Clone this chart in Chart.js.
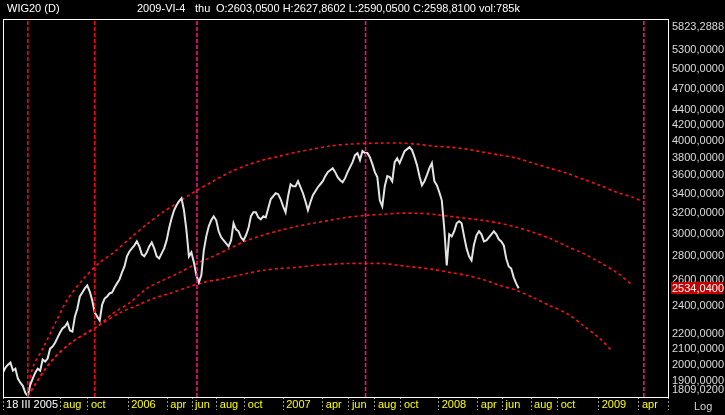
<!DOCTYPE html>
<html lang="pl">
<head>
    <meta charset="UTF-8">
    <title>WIG20 (D)</title>
    <script src="https://cdn.jsdelivr.net/npm/chart.js"></script>
    <style>
        html, body { margin: 0; padding: 0; background: #000; }
        #wrap { width: 725px; height: 415px; }
    </style>
</head>
<body>
    <div id="wrap"><canvas id="wigChart" width="725" height="415"></canvas></div>

    <script>
        // sesje od 18 III 2005, co 4 sesje
        const DAY_STEP = 4;
        const wig20Close = [
            1951,1982,2000,2013,1963,1975,1915,1891,1873,1833,
            1815,1879,1915,1951,1975,1963,2032,2019,2038,2102,
            2115,2141,2175,2209,2237,2251,2279,2223,2216,2321,
            2380,2471,2502,2533,2557,2509,2440,2350,2321,2293,
            2410,2455,2471,2494,2502,2541,2573,2605,2662,2712,
            2798,2841,2868,2895,2931,2886,2815,2798,2833,2886,
            2922,2868,2798,2780,2824,2868,2940,3052,3148,3228,
            3278,3319,3351,3228,3033,2798,2833,2746,2638,2581,
            2638,2850,2977,3071,3129,3168,3129,3024,2968,2940,
            2913,2886,2940,3100,3043,3024,2968,2940,2987,3052,
            3168,3208,3208,3158,3139,3168,3158,3248,3340,3372,
            3403,3393,3340,3268,3208,3372,3499,3477,3477,3532,
            3467,3403,3319,3228,3309,3382,3424,3467,3499,3532,
            3588,3633,3655,3678,3633,3577,3543,3521,3566,3633,
            3690,3748,3830,3854,3771,3878,3854,3854,3806,3724,
            3633,3577,3329,3268,3477,3588,3577,3532,3748,3794,
            3736,3806,3878,3902,3926,3890,3806,3713,3588,3488,
            3532,3599,3678,3736,3532,3488,3414,3329,3052,2720,
            2996,2977,3024,3100,3119,3100,2977,2868,2798,2763,
            2904,2987,3024,2996,2931,2940,2968,2996,3024,2996,
            2950,2931,2895,2780,2712,2695,2622,2573,2534.04
        ];
        const lastClose = 2534.04;

        // łuki (sesja, wartość)
        const topArcDays = [40,48,65,84,103,129,156,177,205,232,258,285,313,339,366,394,419,447,474,500,527,560,613,640,668,694,721,748,774,802,829,855,882,910,936,963,990,1016,1031];
        const topArcValues = [1815,1982,2108,2272,2440,2605,2746,2824,2959,3090,3208,3319,3435,3532,3633,3713,3771,3818,3866,3902,3939,3963,3976,3976,3963,3939,3926,3902,3866,3830,3794,3736,3678,3621,3554,3488,3414,3361,3319];
        const midArcDays = [40,76,108,152,177,205,232,258,285,313,339,366,394,419,447,474,500,527,555,587,613,640,668,694,721,748,774,802,829,855,882,910,936,963,990,1016];
        const midArcValues = [1815,2013,2135,2251,2343,2425,2533,2597,2662,2737,2798,2868,2940,2987,3033,3071,3100,3129,3158,3178,3188,3198,3198,3188,3168,3148,3129,3100,3062,3015,2959,2886,2824,2746,2662,2557];
        const lowArcDays = [40,76,108,152,189,216,242,269,297,323,350,394,419,447,474,500,527,555,587,613,640,668,694,721,748,774,802,829,855,882,910,936,963,982];
        const lowArcValues = [1815,2013,2135,2251,2350,2402,2455,2494,2541,2581,2605,2654,2679,2695,2704,2720,2729,2737,2737,2737,2720,2704,2687,2662,2638,2605,2557,2517,2463,2402,2343,2258,2169,2089];

        // pionowe linie czasu
        const cycleDays = [40, 148, 313, 585, 1034];
        const cycleColors = ['#ff0000', '#ff0000', '#ff0a80', '#ff0a80', '#ff0a80'];

        // oś X
        const X_MAX = 1073;
        const xTickDays = [0, 92, 137, 202, 265, 305, 345, 390, 452, 516, 558, 600, 642, 703, 766, 806, 852, 895, 961, 1026, X_MAX];
        const xTickLabels = ['18 III 2005','aug','oct','2006','apr','jun','aug','oct','2007','apr','jun','aug','oct','2008','apr','jun','aug','oct','2009','apr',''];

        // oś Y (log)
        const Y_MIN = 1809.02;
        const Y_MAX = 5823.2888;
        const yTickValues = [Y_MIN, 1900, 2000, 2100, 2200, 2400, 2600, 2800, 3000, 3200, 3400, 3600, 3800, 4000, 4200, 4400, 4700, 5000, 5300, Y_MAX];

        const FONT = '"Liberation Sans", Arial, sans-serif';

        function fmt(v) {
            return v.toFixed(4).replace('.', ',');
        }

        function pairs(days, values) {
            return days.map((d, i) => ({ x: d, y: values[i] }));
        }

        const cycleSets = cycleDays.map((d, i) => ({
            data: [{ x: d, y: Y_MIN }, { x: d, y: Y_MAX }],
            borderColor: cycleColors[i],
            borderWidth: 1.6,
            borderDash: [4, 2],
            pointRadius: 0
        }));

        const priceSet = {
            data: wig20Close.map((v, i) => ({ x: i * DAY_STEP, y: v })),
            borderColor: '#e4e4e4',
            borderWidth: 2,
            pointRadius: 0,
            tension: 0
        };

        function arcSet(days, values) {
            return {
                data: pairs(days, values),
                borderColor: '#ff1010',
                borderWidth: 1.6,
                borderDash: [3, 3],
                pointRadius: 0,
                tension: 0.3
            };
        }

        const chromePlugin = {
            id: 'chrome',
            beforeDraw(chart) {
                const c = chart.ctx;
                c.save();
                c.fillStyle = '#000';
                c.fillRect(0, 0, chart.width, chart.height);
                c.restore();
            },
            afterDraw(chart) {
                const c = chart.ctx;
                const a = chart.chartArea;
                const ys = chart.scales.y;
                c.save();
                // ramka
                c.strokeStyle = '#ffffff';
                c.lineWidth = 1;
                c.strokeRect(a.left + 0.5, a.top - 0.5, a.right - a.left, a.bottom - a.top + 1);

                // etykieta ostatniej wartości
                const yy = ys.getPixelForValue(lastClose);
                c.fillStyle = '#c80000';
                c.fillRect(a.right + 3, Math.round(yy) - 6, 52, 12);
                c.fillStyle = '#ffffff';
                c.font = '11px ' + FONT;
                c.textBaseline = 'middle';
                c.textAlign = 'left';
                c.fillText(fmt(lastClose), a.right + 4, Math.round(yy) + 0.5);

                // nagłówek
                c.fillText('WIG20 (D)', 7, 9);
                c.fillText('2009-VI-4', 137, 9);
                c.fillText('thu', 195, 9);
                c.fillText('O:2603,0500 H:2627,8602 L:2590,0500 C:2598,8100 vol:785k', 216, 9);

                c.fillStyle = '#d0d0d0';
                c.fillText('Log', 694, 407);
                c.restore();
            }
        };

        const chart = new Chart(document.getElementById('wigChart').getContext('2d'), {
            type: 'line',
            data: {
                datasets: [...cycleSets, priceSet, arcSet(topArcDays, topArcValues), arcSet(midArcDays, midArcValues), arcSet(lowArcDays, lowArcValues)]
            },
            options: {
                responsive: false,
                animation: false,
                events: [],
                layout: { padding: { left: 3, top: 20, right: 0, bottom: 0 } },
                plugins: {
                    legend: { display: false },
                    tooltip: { enabled: false }
                },
                scales: {
                    x: {
                        type: 'linear',
                        min: 0,
                        max: X_MAX,
                        afterBuildTicks: s => { s.ticks = xTickDays.map(v => ({ value: v })); },
                        afterFit: s => { s.height = 18; },
                        border: { display: false },
                        grid: {
                            drawOnChartArea: false,
                            tickLength: 13,
                            tickColor: '#9a9a9a',
                            tickBorderDash: [2, 2]
                        },
                        ticks: {
                            autoSkip: false,
                            maxRotation: 0,
                            align: 'start',
                            padding: -12,
                            font: { family: FONT, size: 11 },
                            color: ctx => ctx.index === 0 ? '#ffffff' : '#ffff00',
                            callback: (v, i) => xTickLabels[i] ? ' ' + xTickLabels[i] : ''
                        }
                    },
                    y: {
                        type: 'logarithmic',
                        position: 'right',
                        min: Y_MIN,
                        max: Y_MAX,
                        afterBuildTicks: s => { s.ticks = yTickValues.map(v => ({ value: v })); },
                        afterFit: s => { s.width = 57; },
                        border: { display: false },
                        grid: { display: false, drawTicks: false, tickLength: 0 },
                        ticks: {
                            autoSkip: false,
                            padding: 4,
                            color: '#dcdcdc',
                            font: { family: FONT, size: 11, lineHeight: 1.2 },
                            callback: v => {
                                if (v === Y_MAX) return ['', fmt(v)];
                                if (v === Y_MIN) return [fmt(v), ''];
                                return fmt(v);
                            }
                        }
                    }
                }
            },
            plugins: [chromePlugin]
        });
    </script>
</body>
</html>
